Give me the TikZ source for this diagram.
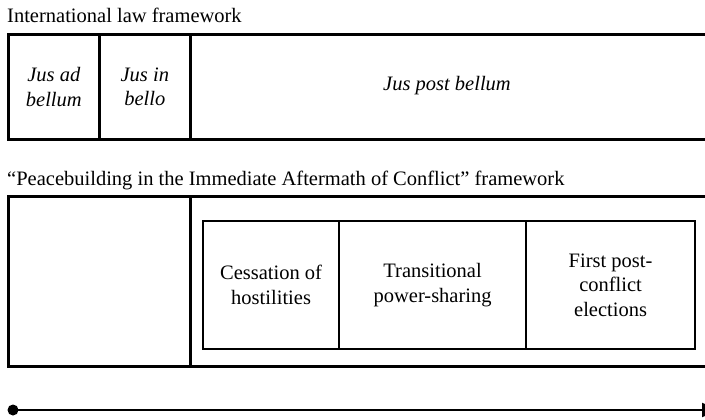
\documentclass[tikz,border=0pt]{standalone}
\usepackage{fontspec}
\setmainfont{Liberation Serif}
\usetikzlibrary{arrows.meta}
\begin{document}
\begin{tikzpicture}[x=1pt,y=-1pt,
  lab/.style={font=\fontsize{20.5}{24.5}\selectfont, align=center, inner sep=0pt},
  title/.style={font=\fontsize{20.5}{24.5}\selectfont, anchor=base west, inner sep=0pt},
  cell/.style={draw, line width=2.6pt, inner sep=0pt, anchor=north west},
  inner/.style={draw, line width=2.2pt, inner sep=0pt, anchor=north west}]
\useasboundingbox (0,0) rectangle (705,420);
% Top framework
\node[title] (t1) at (7,23) {International law framework};
\node[cell, minimum width=91pt, minimum height=105pt] (ad) at (7,33) {};
\node[cell, minimum width=91pt, minimum height=105pt] (in) at (98,33) {};
\node[cell, minimum width=540pt, minimum height=105pt] (post) at (189,33) {};
\node[lab] (adl) at (ad.center) {\itshape Jus ad\\\itshape bellum};
\node[lab] (inl) at (in.center) {\itshape Jus in\\\itshape bello};
\node[lab] (postl) at (447,86) {\itshape Jus post bellum};
% Second framework
\node[title] (t2) at (7,185) {“Peacebuilding in the Immediate Aftermath of Conflict” framework};
\node[cell, minimum width=182pt, minimum height=170pt] (empty) at (7,195) {};
\node[cell, minimum width=540pt, minimum height=170pt] (peace) at (189,195) {};
\node[inner, minimum width=136pt, minimum height=128pt] (ces) at (202,220) {};
\node[inner, minimum width=187pt, minimum height=128pt] (tra) at (338,220) {};
\node[inner, minimum width=169pt, minimum height=128pt] (ele) at (525,220) {};
\node[lab] (cesl) at (ces.center) {Cessation of\\hostilities};
\node[lab] (tral) at (tra.center) {Transitional\\power-sharing};
\node[lab] (elel) at (ele.center) {First post-\\conflict\\elections};
% Timeline
\fill (13,410) circle (5.5pt);
\coordinate (start) at (13,410);
\coordinate (end) at (718,410);
\draw[line width=2.2pt, -{Triangle[length=16pt,width=14pt]}] (start) -- (end);
\end{tikzpicture}
\end{document}
